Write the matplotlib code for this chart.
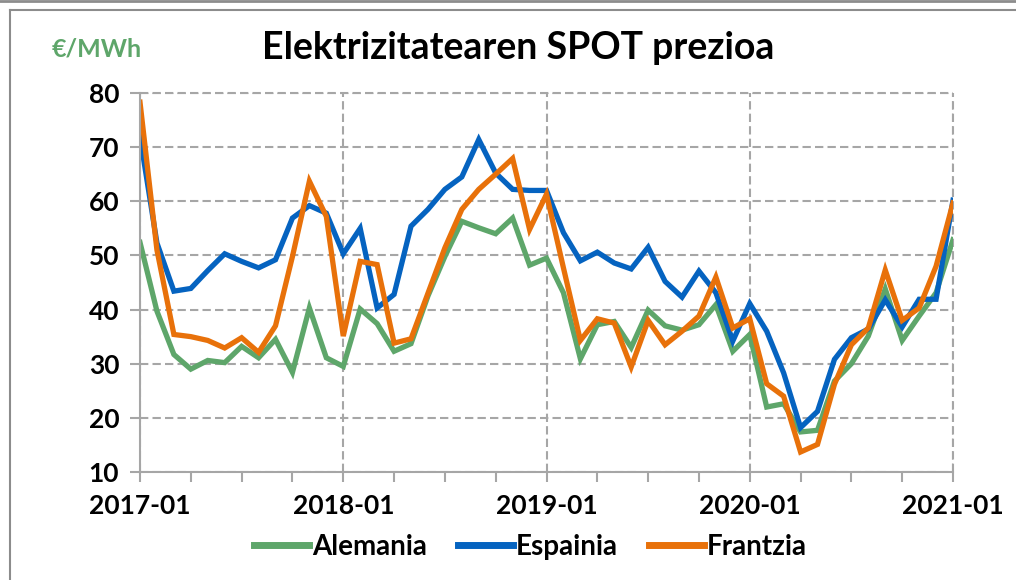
import matplotlib.pyplot as plt
from matplotlib.lines import Line2D

plt.rcParams['font.family'] = ['Lato', 'DejaVu Sans']

years = ['2017-01', '2018-01', '2019-01', '2020-01', '2021-01']

alemania = [52.4, 39.7, 31.7, 29.0, 30.6, 30.2, 33.2, 31.1, 34.5, 28.4, 40.3, 31.1,
            29.5, 40.1, 37.4, 32.3, 33.7, 42.5, 49.8, 56.3, 55.1, 54.0, 56.9, 48.2,
            49.5, 43.1, 30.9, 37.2, 37.8, 33.0, 39.9, 37.0, 36.2, 37.2, 40.9, 32.3,
            35.4, 22.0, 22.6, 17.4, 17.7, 26.8, 30.0, 35.1, 43.8, 34.3, 38.8, 43.1,
            52.9]
espainia = [72.0, 52.3, 43.4, 43.9, 47.2, 50.3, 48.9, 47.7, 49.2, 56.9, 59.2, 57.8,
            50.3, 55.0, 40.3, 42.8, 55.4, 58.5, 62.2, 64.5, 71.4, 65.2, 62.2, 62.0,
            62.0, 54.2, 49.0, 50.6, 48.6, 47.5, 51.5, 45.2, 42.3, 47.1, 43.1, 34.2,
            41.1, 36.0, 28.3, 18.2, 21.2, 30.8, 34.8, 36.4, 41.8, 36.8, 41.9, 41.9,
            60.2]
frantzia = [78.3, 51.0, 35.4, 35.0, 34.3, 32.9, 34.8, 32.1, 37.0, 49.8, 63.7, 57.2,
            35.1, 48.9, 48.3, 33.8, 34.6, 43.0, 51.4, 58.5, 62.2, 65.0, 67.9, 54.8,
            61.3, 47.7, 34.3, 38.3, 37.5, 29.4, 38.0, 33.5, 36.0, 38.8, 46.0, 36.6,
            38.3, 26.3, 24.0, 13.7, 15.1, 26.2, 33.5, 36.6, 47.3, 38.0, 40.3, 48.0,
            59.7]

series = [('Alemania', alemania, '#5ea66a'),
          ('Espainia', espainia, '#0563c0'),
          ('Frantzia', frantzia, '#e8710a')]

fig = plt.figure(figsize=(10.16, 5.8), dpi=100)
ax = fig.add_axes([0.1378, 0.1862, 0.8002, 0.6535])

months = range(len(alemania))
for name, vals, col in series:
    ax.plot(months, vals, color=col, lw=3.8, label=name, solid_joinstyle='miter')

ax.set_xlim(0, len(alemania) - 1)
ax.set_ylim(10, 80)
ax.set_yticks(range(10, 81, 10))
ax.set_xticks(range(0, len(alemania), 12))
ax.set_xticklabels(years)
ax.set_xticks(range(0, len(alemania), 3), minor=True)

grid_kw = dict(color='#a6a6a6', ls=(0, (4, 2)), lw=1.5)
ax.grid(True, which='major', **grid_kw)
for s in ['top', 'right']:
    ax.spines[s].set_visible(False)
for s in ['left', 'bottom']:
    ax.spines[s].set_color('#a6a6a6')
    ax.spines[s].set_linewidth(1.5)
ax.axhline(80, clip_on=False, zorder=0, **grid_kw)
ax.axvline(48, clip_on=False, zorder=0, **grid_kw)

ax.tick_params(axis='both', which='both', color='#a6a6a6', width=1.5, length=7,
               labelsize=19)
ax.tick_params(axis='x', pad=9)
ax.tick_params(axis='y', pad=8)
for lab in ax.get_xticklabels() + ax.get_yticklabels():
    lab.set_fontweight('bold')

fig.text(0.051, 0.915, '€/MWh', color='#5ea66a', fontsize=18, fontweight='bold',
         va='center')
fig.text(0.51, 0.918, 'Elektrizitatearen SPOT prezioa', fontsize=27,
         fontweight='bold', ha='center', va='center')

leg = fig.legend(loc='center', bbox_to_anchor=(0.522, 0.057), ncol=3, frameon=False,
                 prop={'size': 20, 'weight': 'bold'}, handlelength=2.0,
                 columnspacing=1.1, handletextpad=0.1)
for h in leg.legend_handles:
    h.set_linewidth(5)

# surrounding frame
fig.add_artist(Line2D([0.0098, 0.0098], [0, 1 - 10 / 580], color='#8c8c8c', lw=1.5))
fig.add_artist(Line2D([0.0098, 1], [1 - 10 / 580, 1 - 10 / 580], color='#8c8c8c', lw=1.5))
fig.add_artist(Line2D([0, 1], [0.998, 0.998], color='#8c8c8c', lw=2))

fig.savefig('out.png', dpi=100)
